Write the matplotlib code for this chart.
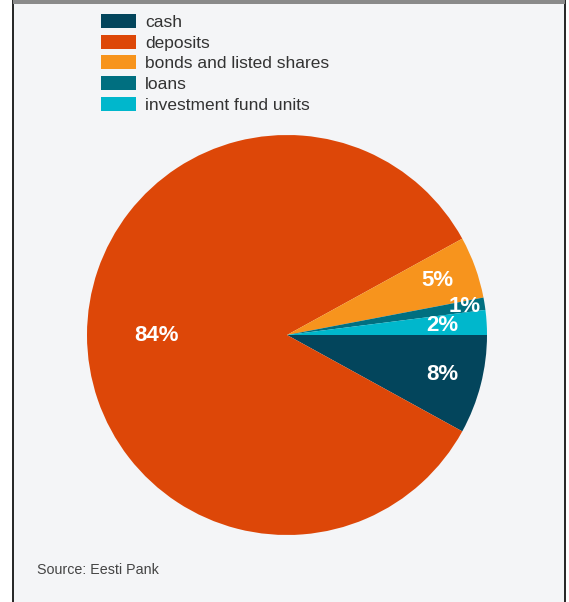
import numpy as np
import matplotlib
matplotlib.use("Agg")
import matplotlib.pyplot as plt
from matplotlib.patches import Rectangle, Patch

plt.rcParams["font.family"] = ["Liberation Sans", "DejaVu Sans"]

categories = ["cash", "deposits", "bonds and listed shares", "loans", "investment fund units"]
shares = [8, 84, 5, 1, 2]
colors = ["#03455c", "#dd4708", "#f7941d", "#006f80", "#00b7cc"]
source_text = "Source: Eesti Pank"

W, H = 569, 602
fig = plt.figure(figsize=(W / 100, H / 100), dpi=100)
fig.patch.set_facecolor("white")

# panel background with side borders and grey top strip
panel = Rectangle((12.5 / W, 0), (564.5 - 12.5) / W, 1, transform=fig.transFigure,
                  facecolor="#f4f5f7", edgecolor="none", zorder=0)
fig.add_artist(panel)
for xp in (12.5, 564.5):
    fig.add_artist(plt.Line2D([xp / W, xp / W], [0, 1], transform=fig.transFigure,
                              color="black", lw=1.2, zorder=1))
fig.add_artist(Rectangle((12.5 / W, 1 - 4 / H), (564.5 - 12.5) / W, 4 / H,
                         transform=fig.transFigure, facecolor="#8a8a8a",
                         edgecolor="none", zorder=2))

# pie axes: centre (287, 335) px, radius 200 px
cx, cy, r = 287, 335, 200
ax = fig.add_axes([(cx - r) / W, (H - cy - r) / H, 2 * r / W, 2 * r / H])
ax.set_facecolor("none")
wedges, _ = ax.pie(shares, colors=colors, startangle=0, counterclock=False,
                   radius=1, wedgeprops=dict(linewidth=0))
ax.set_xlim(-1, 1)
ax.set_ylim(-1, 1)
ax.set_aspect("equal")
ax.axis("off")

label_dist = [0.8, 0.655, 0.8, 0.9, 0.78]
for w, v, d in zip(wedges, shares, label_dist):
    ang = np.deg2rad((w.theta1 + w.theta2) / 2)
    ax.text(d * np.cos(ang), d * np.sin(ang), f"{v}%", color="white",
            fontsize=16, fontweight="bold", ha="center", va="center")

handles = [Patch(facecolor=c, edgecolor="none") for c in colors]
fig.legend(handles, categories, loc="upper left",
           bbox_to_anchor=(101 / W, 1 - 14 / H), bbox_transform=fig.transFigure,
           frameon=False, fontsize=12.5, labelcolor="#333333",
           handlelength=2.0, handleheight=0.86, handletextpad=0.52,
           labelspacing=0.27, borderaxespad=0, borderpad=0)

fig.text(37 / W, 1 - 570 / H, source_text, fontsize=10.3, color="#444444",
         ha="left", va="center")

fig.savefig("out.png", dpi=100, facecolor=fig.get_facecolor())
